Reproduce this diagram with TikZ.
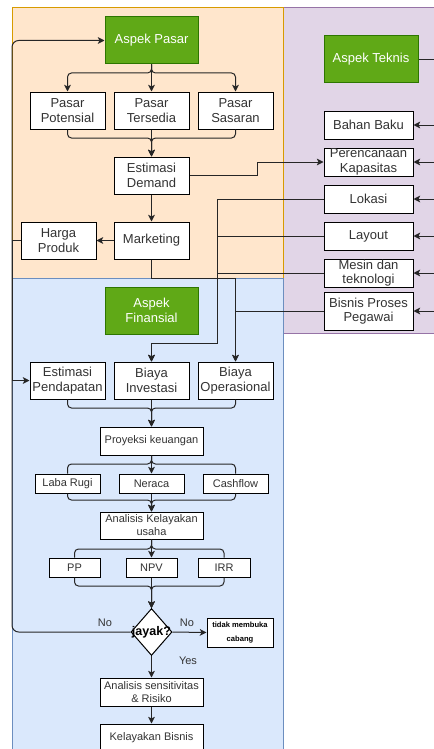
\documentclass[tikz,border=0pt]{standalone}
\usepackage{fontspec}
\setmainfont{Liberation Sans}
\usetikzlibrary{shapes.geometric,arrows.meta,calc}
\definecolor{orfill}{HTML}{FFE6CC}
\definecolor{ordraw}{HTML}{D79B00}
\definecolor{pufill}{HTML}{E1D5E7}
\definecolor{pudraw}{HTML}{9673A6}
\definecolor{blfill}{HTML}{DAE8FC}
\definecolor{bldraw}{HTML}{6C8EBF}
\definecolor{grfill}{HTML}{60A917}
\definecolor{grdraw}{HTML}{2D7600}
\definecolor{txt}{HTML}{333333}
\newcommand{\BX}[7][]{\node[box,minimum width={(#5-#3)*0.75pt},minimum height={(#6-#4)*0.75pt},#1] (#2) at ({(#3+#5)/2},{(#4+#6)/2}) {#7};}
\begin{document}
\begin{tikzpicture}[x=0.75pt,y=-0.75pt,
 box/.style={draw=black, fill=white, line width=0.75pt, inner sep=0pt, align=center, text=txt, font=\fontsize{9.75}{11}\selectfont},
 sm/.style={font=\fontsize{8.25}{9.75}\selectfont},
 asp/.style={draw=grdraw, fill=grfill, text=white},
 conn/.style={draw=black!85, line width=0.75pt},
 arr/.style={conn, -{Stealth[length=5pt,width=5pt,inset=1.2pt]}},
 rc/.style={rounded corners=3pt},
 lbl/.style={text=txt, font=\fontsize{8.25}{9.75}\selectfont, inner sep=0pt}
]
\clip (0,0) rectangle (434,749);
\fill[white] (0,0) rectangle (434,749);
% panels
\draw[fill=pufill, draw=pudraw, line width=0.75pt] (283,8) rectangle (445,333);
\draw[fill=orfill, draw=ordraw, line width=0.75pt] (12,8) rectangle (283,278);
\draw[fill=blfill, draw=bldraw, line width=0.75pt] (12,278) rectangle (283,760);
% Aspek Pasar
\BX[asp]{ap}{105}{17}{198}{64}{Aspek Pasar}
\BX{pp}{30}{92}{105}{129}{Pasar\\Potensial}
\BX{pt}{114}{92}{189}{129}{Pasar\\Tersedia}
\BX{ps}{198}{92}{273}{129}{Pasar\\Sasaran}
\BX{ed}{114}{157}{189}{194}{Estimasi\\Demand}
\BX{mk}{114}{222}{189}{259}{Marketing}
\BX{hp}{21}{222}{96}{259}{Harga\\Produk}
% Aspek Teknis
\BX[asp]{at}{324}{36}{418}{83}{Aspek Teknis}
\BX{bb}{324}{111}{413}{139}{Bahan Baku}
\BX{pk}{324}{148}{413}{176}{Perencanaan\\Kapasitas}
\BX{lo}{324}{185}{413}{213}{Lokasi}
\BX{la}{324}{222}{413}{250}{Layout}
\BX{me}{324}{259}{413}{287}{Mesin dan\\teknologi}
\BX{bpp}{324}{292}{413}{330}{Bisnis Proses\\Pegawai}
% Aspek Finansial
\BX[asp]{af}{105}{287}{198}{334}{Aspek\\Finansial}
\BX{ep}{30}{362}{105}{399}{Estimasi\\Pendapatan}
\BX{bi}{114}{362}{189}{399}{Biaya\\Investasi}
\BX{bo}{198}{362}{273}{399}{Biaya\\Operasional}
\BX[sm]{pro}{100}{427}{203}{455}{Proyeksi keuangan}
\BX[sm]{lr}{35}{474}{100}{493}{Laba Rugi}
\BX[sm]{ne}{119}{474}{184}{493}{Neraca}
\BX[sm]{cf}{203}{474}{268}{493}{Cashflow}
\BX[sm]{ak}{100}{512}{203}{539}{Analisis Kelayakan\\usaha}
\BX[sm]{ppb}{49}{558}{100}{577}{PP}
\BX[sm]{npv}{126}{558}{177}{577}{NPV}
\BX[sm]{irr}{198}{558}{250}{577}{IRR}
\node[diamond, draw=black, fill=white, line width=0.75pt, inner sep=0pt,
  minimum width={41*0.75pt}, minimum height={47*0.75pt}, text=black,
  font=\bfseries\fontsize{9.4}{11}\selectfont] (dia) at (151.5,632) {\makebox[0pt]{jayak?}};
\BX[font=\bfseries\fontsize{5.7}{10.5}\selectfont, text=black]{tid}{207}{618}{273}{647}{tidak membuka\\cabang}
\BX[sm]{as}{100}{678}{203}{706}{Analisis sensitivitas\\\& Risiko}
\BX[sm]{kb}{100}{724}{203}{752}{Kelayakan Bisnis}
% connectors pasar
\draw[arr] (ap.south) -- (pt.north);
\draw[arr,rc] (ap.south) -- (ap.south |- 0,73) -| (pp.north);
\draw[arr,rc] (ap.south) -- (ap.south |- 0,73) -| (ps.north);
\draw[arr,rc] (pp.south) -- (pp.south |- 0,138) -| (ed.north);
\draw[arr,rc] (ps.south) -- (ps.south |- 0,138) -| (ed.north);
\draw[arr] (pt.south) -- (ed.north);
\draw[arr] (ed.south) -- (mk.north);
\draw[arr] (mk.west) -- (hp.east);
\draw[arr] (ed.east) -- (ed.east -| 257,0) |- (pk.west);
% teknis to finansial
\draw[arr] (lo.west) -- (lo.west -| 217,0) -- (217,343) -| (bi.north);
\draw[arr] (la.west) -- (la.west -| 217,0) -- (217,343) -| (bi.north);
\draw[arr] (me.west) -- (me.west -| 217,0) -- (217,343) -| (bi.north);
\draw[arr] (bpp.west) -| (bo.north);
\draw[arr] (mk.south) -- (mk.south |- 0,278) -| (bo.north);
\draw[arr] (hp.west) -- (hp.west -| 12,0) |- (ep.west);
\draw[arr,rounded corners=5pt] (dia.west) -- (dia.west -| 12,0) |- (ap.west);
% right edge
\coordinate (r0) at (at.east -| 434,0);
\coordinate (r1) at (bb.east -| 434,0);
\coordinate (r2) at (pk.east -| 434,0);
\coordinate (r3) at (lo.east -| 434,0);
\coordinate (r4) at (la.east -| 434,0);
\coordinate (r5) at (me.east -| 434,0);
\coordinate (r6) at (bpp.east -| 434,0);
\draw[conn] (at.east) -- (r0);
\draw[arr] (r1) -- (bb.east);
\draw[arr] (r2) -- (pk.east);
\draw[arr] (r3) -- (lo.east);
\draw[arr] (r4) -- (la.east);
\draw[arr] (r5) -- (me.east);
\draw[arr] (r6) -- (bpp.east);
% finansial
\draw[arr,rc] (ep.south) -- (ep.south |- 0,408) -| (pro.north);
\draw[arr] (bi.south) -- (pro.north);
\draw[arr,rc] (bo.south) -- (bo.south |- 0,408) -| (pro.north);
\draw[conn,rc] (pro.south) -- (pro.south |- 0,464) -| (lr.north);
\draw[conn,rc] (pro.south) -- (pro.south |- 0,464) -| (cf.north);
\draw[arr] (pro.south) -- (ne.north);
\draw[arr,rc] (lr.south) -- (lr.south |- 0,500) -| (ak.north);
\draw[arr,rc] (cf.south) -- (cf.south |- 0,500) -| (ak.north);
\draw[arr] (ne.south) -- (ak.north);
\draw[conn,rc] (ak.south) -- (ak.south |- 0,549) -| (ppb.north);
\draw[conn,rc] (ak.south) -- (ak.south |- 0,549) -| (irr.north);
\draw[arr] (ak.south) -- (npv.north);
\draw[arr,rc] (ppb.south) -- (ppb.south |- 0,586) -| (dia.north);
\draw[arr,rc] (irr.south) -- (irr.south |- 0,586) -| (dia.north);
\draw[arr] (npv.south) -- (dia.north);
\draw[arr] (dia.east) -- (tid.west);
\draw[arr] (dia.south) -- (as.north);
\draw[arr] (as.south) -- (kb.north);
% labels
\node[lbl] (no1) at (105,623) {No};
\node[lbl] (no2) at (187,623) {No};
\node[lbl] (yes) at (188,661) {Yes};
\end{tikzpicture}
\end{document}
